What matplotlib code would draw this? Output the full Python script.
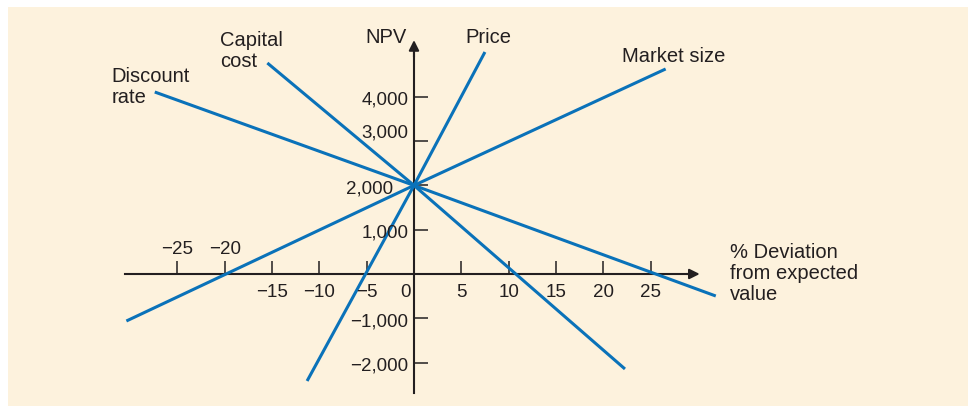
import matplotlib
matplotlib.use("Agg")
import matplotlib.pyplot as plt
from matplotlib.patches import Rectangle

plt.rcParams['font.family'] = ['Liberation Sans', 'DejaVu Sans']

# Data: sensitivity of NPV to % deviation from expected value
x_ticks = [-25, -20, -15, -10, -5, 5, 10, 15, 20, 25]
x_labels_above = [-25, -20]
x_labels_below = [-15, -10, -5, 0, 5, 10, 15, 20, 25]
y_ticks = [-2000, -1000, 1000, 2000, 3000, 4000]

# endpoints of each line (through base case 0 %, 2,000)
discount_x = [-27.4, 0, 31.9]
discount_y = [4108, 2000, -497]
capital_x = [-15.5, 0, 22.3]
capital_y = [4763, 2000, -2144]
price_x = [-11.3, 0, 7.5]
price_y = [-2415, 2000, 5011]
market_x = [-30.4, 0, 26.6]
market_y = [-1061, 2000, 4628]

blue = '#0a72b9'
ink = '#231f20'
cream = '#fdf2dd'

fig = plt.figure(figsize=(9.68, 4.08), dpi=100)
fig.patch.set_facecolor('white')
fig.patches.append(Rectangle((8 / 968, 2 / 408), 960 / 968, 399 / 408,
                             transform=fig.transFigure, facecolor=cream,
                             edgecolor='none', zorder=-5))

ax = fig.add_axes([0, 0, 1, 1])
ax.set_facecolor('none')
ax.set_xlim(-43.76, 58.56)
ax.set_ylim(-3025, 6185)

# lines
for xs, ys in [(discount_x, discount_y), (capital_x, capital_y),
               (price_x, price_y), (market_x, market_y)]:
    ax.plot(xs, ys, color=blue, lw=2.2, solid_capstyle='butt', zorder=3)

# axes through origin
for s in ['top', 'right']:
    ax.spines[s].set_visible(False)
ax.spines['left'].set_position(('data', 0))
ax.spines['bottom'].set_position(('data', 0))
ax.spines['left'].set_bounds(-2690, 5000)
ax.spines['bottom'].set_bounds(-30.5, 29.0)
for s in ['left', 'bottom']:
    ax.spines[s].set_color(ink)
    ax.spines[s].set_linewidth(1.5)
    ax.spines[s].set_zorder(2)

ax.annotate('', xy=(30.2, 0), xytext=(28.8, 0),
            arrowprops=dict(arrowstyle='-|>', color=ink, lw=1.5,
                            mutation_scale=15, shrinkA=0, shrinkB=0))
ax.annotate('', xy=(0, 5280), xytext=(0, 4900),
            arrowprops=dict(arrowstyle='-|>', color=ink, lw=1.5,
                            mutation_scale=15, shrinkA=0, shrinkB=0))

ax.set_xticks(x_ticks)
ax.set_yticks(y_ticks)
ax.tick_params(axis='x', direction='in', length=9.4, width=1.1, color=ink,
               labelbottom=False)
ax.tick_params(axis='y', direction='in', length=10, width=1.1, color=ink,
               labelleft=False)


def fmt(v):
    s = f"{abs(v):,}"
    return ('\u2212' + s) if v < 0 else s


fs_tick = 13.5
for v in x_labels_above:
    ax.text(v, 451, fmt(v), ha='center', va='baseline', fontsize=fs_tick,
            color=ink)
for v in x_labels_below:
    xpos = -0.9 if v == 0 else v
    ax.text(xpos, -519, fmt(v), ha='center', va='baseline', fontsize=fs_tick,
            color=ink)
for v in y_ticks:
    xpos = -2.2 if v == 2000 else -0.6
    ypos = v + 180 if v == 3000 else v - 80
    ax.text(xpos, ypos, fmt(v), ha='right', va='center', fontsize=fs_tick,
            color=ink)

fs_lab = 14.5
ax.text(-32.0, 3860, 'Discount\nrate', ha='left', va='baseline',
        fontsize=fs_lab, color=ink, linespacing=1.1)
ax.text(-20.5, 4673, 'Capital\ncost', ha='left', va='baseline',
        fontsize=fs_lab, color=ink, linespacing=1.1)
ax.text(-0.74, 5214, 'NPV', ha='right', va='baseline', fontsize=fs_lab,
        color=ink)
ax.text(5.4, 5214, 'Price', ha='left', va='baseline', fontsize=fs_lab,
        color=ink)
ax.text(22.0, 4786, 'Market size', ha='left', va='baseline', fontsize=fs_lab,
        color=ink)
ax.text(33.4, -587, '% Deviation\nfrom expected\nvalue', ha='left',
        va='baseline', fontsize=fs_lab, color=ink, linespacing=1.13)

fig.savefig('out.png', dpi=100, facecolor=fig.get_facecolor())
